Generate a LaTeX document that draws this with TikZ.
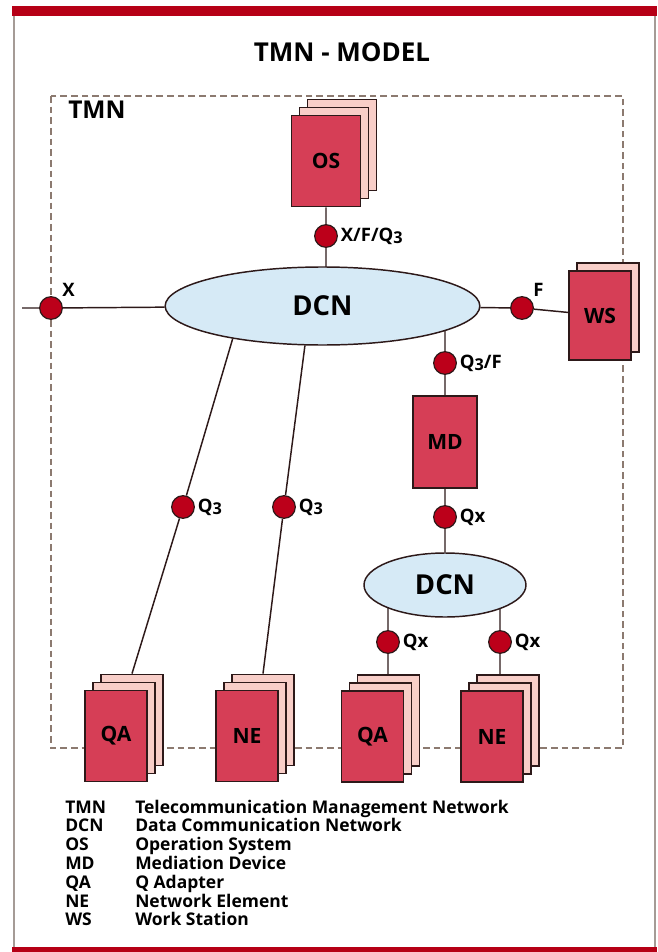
\documentclass[tikz,border=0pt]{standalone}
\usepackage{fontspec}
\setmainfont{Open Sans}
\usetikzlibrary{shapes.geometric,backgrounds}

\definecolor{barred}{RGB}{182,0,22}
\definecolor{framegray}{RGB}{165,155,150}
\definecolor{dashgray}{RGB}{140,122,112}
\definecolor{edge}{RGB}{45,25,25}
\definecolor{cardred}{RGB}{214,62,86}
\definecolor{layerpink}{RGB}{248,206,200}
\definecolor{portred}{RGB}{188,0,26}
\definecolor{dcnblue}{RGB}{214,234,246}

% low figure as in Q3
\newcommand{\lowfig}[1]{\raisebox{-1.6pt}{\fontsize{12.2}{12}\selectfont #1}}

\tikzset{
    card/.style={draw=edge, line width=1.1pt, fill=cardred, inner sep=0pt,
        minimum width=46.5pt, minimum height=68.5pt,
        font=\bfseries\fontsize{15.8}{16}\selectfont},
    layer/.style={card, fill=layerpink},
    port/.style={circle, draw=edge, line width=0.9pt, fill=portred,
        minimum size=17pt, inner sep=0pt},
    portlbl/.style={font=\bfseries\fontsize{13.9}{14}\selectfont, inner sep=2pt},
    net/.style={ellipse, draw=edge, line width=1.1pt, fill=dcnblue, inner sep=0pt,
        font=\bfseries\fontsize{20.6}{21}\selectfont},
    link/.style={draw=edge, line width=1.1pt},
    legend/.style={anchor=base west, inner sep=0pt,
        font=\bfseries\fontsize{13.1}{14}\selectfont},
}

\begin{document}
\begin{tikzpicture}[x=0.75pt, y=-0.75pt]
    \useasboundingbox (0,0) rectangle (657,952);

    % page frame
    \fill[barred] (12,6) rectangle (657,16);
    \fill[barred] (12,947) rectangle (657,952);
    \draw[framegray, line width=1pt] (14,16) -- (14,947) (655,16) -- (655,947);

    \node[anchor=base, font=\bfseries\fontsize{19.5}{20}\selectfont] (title) at (342,62) {TMN - MODEL};

    % TMN domain
    \draw[dashgray, line width=0.8pt, dash pattern=on 5pt off 3pt] (51,96) rectangle (623,748);
    \node[anchor=base west, inner sep=0pt, font=\bfseries\fontsize{18.4}{18}\selectfont] (tmn) at (68,119) {TMN};

    % networks
    \node[net, minimum width=236pt, minimum height=58.5pt] (dcn) at (322.5,306) {DCN};
    \node[net, minimum width=121.5pt, minimum height=48pt] (dcn2) at (445,585) {DCN};

    % stacked devices
    \foreach \n/\x/\y/\t/\w in {os/326/161/OS/52pt, qa1/116/736/QA/46.5pt,
            ne1/247/736/NE/46.5pt, qa2/372.5/736.5/QA/46.5pt, ne2/492/736.5/NE/46.5pt} {
        \node[layer, minimum width=\w] (back\n) at (\x+16,\y-16) {};
        \node[layer, minimum width=\w] at (\x+8,\y-8) {};
        \node[card, minimum width=\w] (\n) at (\x,\y) {\t};
    }
    \node[layer, minimum height=67pt] (backws) at (608,307.5) {};
    \node[card, minimum height=67pt] (ws) at (600,315.5) {WS};
    \node[card, minimum width=48pt, minimum height=69pt] (md) at (445,442) {MD};

    % interfaces
    \coordinate (xend) at (22,308);
    \node[port, label={[portlbl]45:X}] (px) at (51,308) {};
    \node[port, label={[portlbl]right:X/F/Q\lowfig{3}}] (pos) at (326,236) {};
    \node[port, label={[portlbl]45:F}] (pf) at (522,308) {};
    \node[port, label={[portlbl]right:Q\lowfig{3}/F}] (pq3f) at (445,363) {};
    \node[port, label={[portlbl]right:Q\lowfig{3}}] (pq3a) at (183,507) {};
    \node[port, label={[portlbl]right:Q\lowfig{3}}] (pq3b) at (284,507) {};
    \node[port, label={[portlbl]right:Qx}] (pqx) at (445,517) {};
    \node[port, label={[portlbl]right:Qx}] (pqxa) at (388,642) {};
    \node[port, label={[portlbl]right:Qx}] (pqxb) at (500,642) {};

    \begin{scope}[on background layer]
        \draw[link]
            (xend) -- (px) -- (dcn)
            (os) -- (pos) -- (pos |- dcn)
            (dcn) -- (pf) -- (ws)
            (pq3f |- dcn) -- (pq3f) -- (md)
            (md) -- (pqx) -- (dcn2)
            (dcn.200) -- (pq3a) -- (backqa1.north)
            (dcn.246) -- (pq3b) -- (backne1.north)
            (pqxa |- dcn2) -- (pqxa) -- (pqxa |- qa2)
            (pqxb |- dcn2) -- (pqxb) -- (pqxb |- ne2)
        ;
    \end{scope}

    % legend
    \foreach \a/\d [count=\i from 0] in {TMN/Telecommunication Management Network,
            DCN/Data Communication Network, OS/Operation System, MD/Mediation Device,
            QA/Q Adapter, NE/Network Element, WS/Work Station} {
        \node[legend] (abbr\i) at (65,813+18.8*\i) {\a};
        \node[legend] (desc\i) at (135,813+18.8*\i) {\d};
    }
\end{tikzpicture}
\end{document}
